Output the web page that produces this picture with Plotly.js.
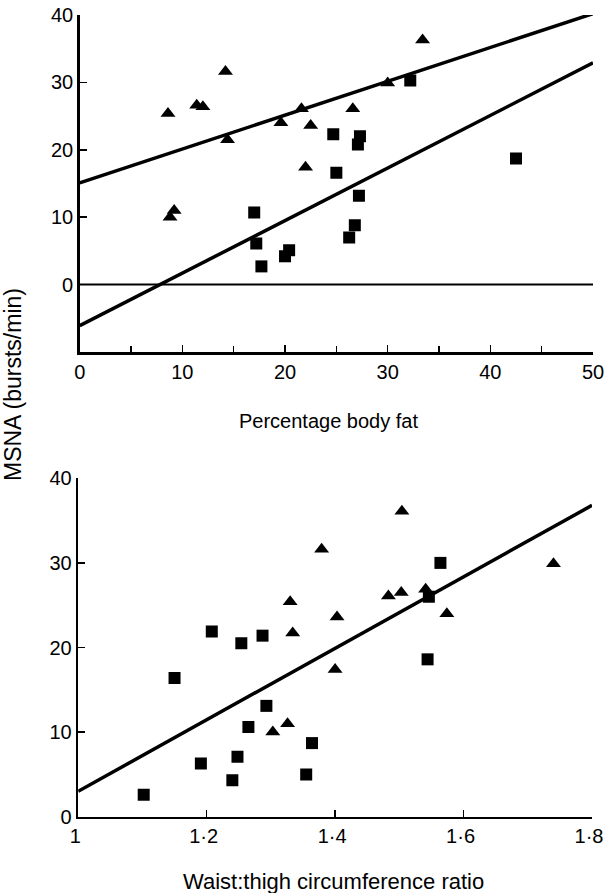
<!DOCTYPE html>
<html>
<head>
<meta charset="utf-8">
<script src="https://cdn.plot.ly/plotly-3.0.1.min.js"></script>
<style>html,body{margin:0;padding:0;background:#fff;}#chart{width:604px;height:893px;}</style>
</head>
<body>
<div id="chart"></div>
<script>
// ---- Top panel: MSNA vs percentage body fat ----
var fatTriX = [8.6, 11.4, 12.0, 14.2, 14.4, 8.8, 9.2, 19.6, 21.6, 22.5, 22.0, 26.6, 30.0, 33.4];
var fatTriY = [25.4, 26.6, 26.4, 31.6, 21.5, 10.0, 11.0, 24.0, 26.1, 23.6, 17.4, 26.1, 29.9, 36.3];
var fatSqX = [17.0, 17.2, 17.7, 20.0, 20.4, 24.7, 25.0, 26.25, 26.8, 27.2, 27.3, 27.1, 32.2, 42.5];
var fatSqY = [10.7, 6.1, 2.7, 4.2, 5.1, 22.3, 16.6, 7.0, 8.8, 13.2, 22.0, 20.8, 30.3, 18.7];
var fatFitX = [0, 50];
var fatFitTriY = [15.1, 40.2];
var fatFitSqY = [-6.1, 32.9];
var zeroLineX = [0, 50];
var zeroLineY = [0, 0];

// ---- Bottom panel: MSNA vs waist:thigh circumference ratio ----
var ratioTriX = [1.379, 1.504, 1.330, 1.334, 1.403, 1.400, 1.483, 1.503, 1.541, 1.574, 1.740, 1.303, 1.326];
var ratioTriY = [31.6, 36.1, 25.4, 21.7, 23.6, 17.4, 26.1, 26.5, 26.9, 24.0, 29.9, 10.0, 11.0];
var ratioSqX = [1.102, 1.150, 1.191, 1.208, 1.240, 1.248, 1.254, 1.265, 1.287, 1.293, 1.355, 1.364, 1.544, 1.564, 1.546];
var ratioSqY = [2.6, 16.4, 6.3, 21.9, 4.3, 7.1, 20.5, 10.6, 21.4, 13.1, 5.0, 8.7, 18.6, 30.0, 26.0];
var ratioFitX = [1, 1.8];
var ratioFitY = [3.0, 36.8];

var fatTicks = [0, 10, 20, 30, 40, 50];
var fatMinorTicks = [5, 15, 25, 35, 45];
var fatYTicks = [0, 10, 20, 30, 40];
var ratioTicks = [1, 1.2, 1.4, 1.6, 1.8];
var ratioTickText = ['1', '1·2', '1·4', '1·6', '1·8'];
var ratioYTicks = [0, 10, 20, 30, 40];

var xTitleTop = 'Percentage body fat';
var xTitleBottom = 'Waist:thigh circumference ratio';
var yTitle = 'MSNA (bursts/min)';

var ink = '#000';
var triMarker = {symbol: 'triangle-up', size: 13, color: ink};
var sqMarker = {symbol: 'square', size: 12, color: ink};

var traces = [
  {x: zeroLineX, y: zeroLineY, mode: 'lines', line: {color: ink, width: 2}, xaxis: 'x', yaxis: 'y'},
  {x: fatFitX, y: fatFitTriY, mode: 'lines', line: {color: ink, width: 3.5}, xaxis: 'x', yaxis: 'y'},
  {x: fatFitX, y: fatFitSqY, mode: 'lines', line: {color: ink, width: 3.5}, xaxis: 'x', yaxis: 'y'},
  {x: fatTriX, y: fatTriY, mode: 'markers', marker: triMarker, xaxis: 'x', yaxis: 'y'},
  {x: fatSqX, y: fatSqY, mode: 'markers', marker: sqMarker, xaxis: 'x', yaxis: 'y'},
  {x: ratioFitX, y: ratioFitY, mode: 'lines', line: {color: ink, width: 3.5}, xaxis: 'x2', yaxis: 'y2'},
  {x: ratioTriX, y: ratioTriY, mode: 'markers', marker: triMarker, xaxis: 'x2', yaxis: 'y2'},
  {x: ratioSqX, y: ratioSqY, mode: 'markers', marker: sqMarker, xaxis: 'x2', yaxis: 'y2'}
];

var W = 604, H = 893;
function px(v) { return v / W; }
function py(v) { return 1 - v / H; }

var axisCommon = {
  showline: true, linecolor: ink, linewidth: 2.5,
  ticks: 'inside', ticklen: 7, tickwidth: 1.5, tickcolor: ink,
  showgrid: false, zeroline: false, fixedrange: true,
  ticklabeloverflow: 'allow',
  tickfont: {size: 20, color: ink}
};

var layout = {
  width: W, height: H,
  margin: {l: 0, r: 0, t: 0, b: 0},
  showlegend: false,
  paper_bgcolor: '#fff', plot_bgcolor: '#fff',
  font: {family: '"Liberation Sans", Arial, Helvetica, sans-serif', color: ink, size: 20},
  xaxis: Object.assign({}, axisCommon, {
    domain: [px(79.7), px(593)], anchor: 'y', range: [0, 50],
    tickvals: fatTicks, ticktext: fatTicks.map(String),
    minor: {tickvals: fatMinorTicks, ticks: 'inside', ticklen: 6, tickwidth: 1.5, tickcolor: ink, showgrid: false}
  }),
  yaxis: Object.assign({}, axisCommon, {
    domain: [py(352), py(15)], anchor: 'x', range: [-10, 40],
    tickvals: fatYTicks, ticktext: fatYTicks.map(String)
  }),
  xaxis2: Object.assign({}, axisCommon, {
    domain: [px(78.2), px(592)], anchor: 'y2', range: [1, 1.8],
    tickvals: ratioTicks, ticktext: ratioTickText, ticklabelshift: -3
  }),
  yaxis2: Object.assign({}, axisCommon, {
    domain: [py(816.7), py(478.3)], anchor: 'x2', range: [0, 40],
    tickvals: ratioYTicks, ticktext: ratioYTicks.map(String)
  }),
  annotations: [
    {text: xTitleTop, xref: 'paper', yref: 'paper', x: px(328), y: py(421), showarrow: false, xanchor: 'center', yanchor: 'middle', font: {size: 20}},
    {text: xTitleBottom, xref: 'paper', yref: 'paper', x: px(333), y: py(881), showarrow: false, xanchor: 'center', yanchor: 'middle', font: {size: 22}},
    {text: yTitle, xref: 'paper', yref: 'paper', x: px(13), y: py(385), showarrow: false, textangle: -90, xanchor: 'center', yanchor: 'middle', font: {size: 23}}
  ]
};

Plotly.newPlot('chart', traces, layout, {displayModeBar: false, staticPlot: true});
</script>
</body>
</html>
